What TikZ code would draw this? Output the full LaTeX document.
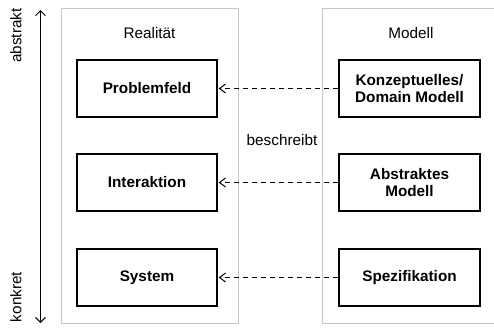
\documentclass[tikz,border=0pt]{standalone}
\usepackage{fontspec}
\setmainfont{Liberation Sans}
\usetikzlibrary{arrows.meta}
\begin{document}
\begin{tikzpicture}[x=1pt,y=-1pt,
  container/.style={draw=black!22, line width=1pt, fill=none, inner sep=0pt},
  stepbox/.style={draw=black, line width=1.4pt, minimum width=140pt, minimum height=57pt, inner sep=2pt, align=center, font=\bfseries\fontsize{15.3}{17}\selectfont},
  lbl/.style={inner sep=0pt, font=\fontsize{15.3}{17}\selectfont},
  desc/.style={dash pattern=on 5pt off 4pt, line width=1pt, -{Straight Barb[length=6pt,width=9pt]}, shorten >=1pt},
  axis/.style={line width=1pt, {Straight Barb[length=5pt,width=10pt]}-{Straight Barb[length=5pt,width=10pt]}}
]
\useasboundingbox (0,0) rectangle (494,327);
% containers
\node[container, minimum width=177pt, minimum height=315pt] (real) at (149.5,165.5) {};
\node[container, minimum width=174pt, minimum height=315pt] (mod) at (409,165.5) {};
\node[lbl] (realtitle) at (149.5,33) {Realität};
\node[lbl] (modtitle) at (411,33) {Modell};
% left boxes
\node[stepbox] (pf) at (147,88.5) {Problemfeld};
\node[stepbox] (ia) at (147,182.5) {Interaktion};
\node[stepbox] (sy) at (147,277.5) {System};
% right boxes
\node[stepbox, minimum width=141pt] (kd) at (409.5,88.5) {Konzeptuelles/\\Domain Modell};
\node[stepbox, minimum width=141pt] (am) at (409.5,182.5) {Abstraktes\\Modell};
\node[stepbox, minimum width=141pt] (sp) at (409.5,277.5) {Spezifikation};
% relations
\draw[desc] (kd.west) -- (pf.east |- kd.west);
\draw[desc] (am.west) -- (ia.east |- am.west);
\draw[desc] (sp.west) -- (sy.east |- sp.west);
\node[lbl] (besch) at (282,140) {beschreibt};
% axis
\coordinate (atop) at (40.5,10);
\coordinate (abot) at (40.5,323);
\draw[axis] (atop) -- (abot);
\node[lbl, rotate=90] (abst) at (16,35.5) {abstrakt};
\node[lbl, rotate=90] (konk) at (16,297) {konkret};
\end{tikzpicture}
\end{document}
